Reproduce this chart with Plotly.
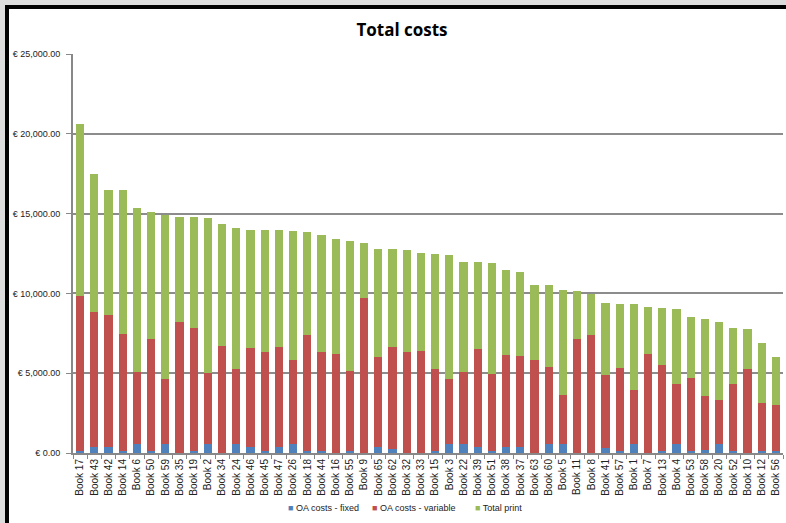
import plotly.graph_objects as go

books = ["Book 17", "Book 43", "Book 42", "Book 14", "Book 6", "Book 50", "Book 59", "Book 35", "Book 19", "Book 2",
         "Book 34", "Book 24", "Book 46", "Book 45", "Book 47", "Book 26", "Book 18", "Book 44", "Book 16", "Book 55",
         "Book 9", "Book 65", "Book 62", "Book 32", "Book 33", "Book 15", "Book 3", "Book 22", "Book 39", "Book 51",
         "Book 38", "Book 37", "Book 63", "Book 60", "Book 5", "Book 11", "Book 8", "Book 41", "Book 57", "Book 1",
         "Book 7", "Book 13", "Book 4", "Book 53", "Book 58", "Book 20", "Book 52", "Book 10", "Book 12", "Book 56"]

# cumulative tops
fixed_top = [150, 360, 360, 150, 560, 150, 560, 0, 150, 560,
             0, 560, 360, 100, 400, 560, 150, 100, 0, 125,
             0, 360, 250, 0, 0, 125, 545, 545, 360, 125,
             360, 360, 0, 545, 545, 0, 0, 330, 125, 545,
             0, 125, 545, 125, 210, 545, 125, 0, 125, 125]
variable_top = [9830, 8830, 8640, 7430, 5070, 7160, 4650, 8180, 7840, 4990,
                6720, 5280, 6590, 6320, 6640, 5840, 7370, 6300, 6200, 5150,
                9720, 6010, 6620, 6300, 6370, 5260, 4630, 5050, 6510, 4950,
                6120, 6070, 5840, 5360, 3650, 7120, 7410, 4860, 5320, 3940,
                6180, 5510, 4320, 4710, 3570, 3320, 4320, 5260, 3110, 3000]
total_top = [20600, 17500, 16460, 16460, 15340, 15090, 14920, 14790, 14790, 14750,
             14340, 14090, 14000, 13960, 13960, 13900, 13840, 13650, 13380, 13310,
             13130, 12810, 12770, 12710, 12560, 12480, 12380, 11980, 11980, 11910,
             11460, 11370, 10500, 10500, 10190, 10120, 9970, 9430, 9330, 9330,
             9160, 9080, 9010, 8510, 8370, 8180, 7810, 7760, 6870, 6010]

oa_fixed = fixed_top
oa_variable = [v - f for v, f in zip(variable_top, fixed_top)]
total_print = [t - v for t, v in zip(total_top, variable_top)]

series_names = ["OA costs - fixed", "OA costs - variable", "Total print"]
series_colors = ["#4F81BD", "#C0504D", "#9BBB59"]
series_values = [oa_fixed, oa_variable, total_print]

fig = go.Figure()
for name, vals, col in zip(series_names, series_values, series_colors):
    fig.add_trace(go.Bar(x=books, y=vals, name=name, marker=dict(color=col, line=dict(width=0)),
                         showlegend=False))

L, R, T, B = 73, 783, 54, 453
W, H = R - L, B - T
def px(x): return (x - L) / W
def py(y): return (B - y) / H

shapes = [
    dict(type="rect", xref="paper", yref="paper", x0=px(0), x1=px(786), y0=py(0), y1=py(5),
         fillcolor="#dcdcdc", line=dict(width=0), layer="above"),
    dict(type="rect", xref="paper", yref="paper", x0=px(0), x1=px(5), y0=py(0), y1=py(523),
         fillcolor="#dcdcdc", line=dict(width=0), layer="above"),
    dict(type="rect", xref="paper", yref="paper", x0=px(5), x1=px(786), y0=py(5), y1=py(9),
         fillcolor="#000000", line=dict(width=0), layer="above"),
    dict(type="rect", xref="paper", yref="paper", x0=px(5), x1=px(9), y0=py(5), y1=py(523),
         fillcolor="#000000", line=dict(width=0), layer="above"),
]

# legend drawn as text: colored square + label
legend_x = [286, 370, 473]
annotations = []
for name, col, lx in zip(series_names, series_colors, legend_x):
    annotations.append(dict(xref="paper", yref="paper", x=px(lx), y=py(508), xanchor="left", yanchor="middle",
                            showarrow=False, text=f"<span style='color:{col}'>■</span> {name}",
                            font=dict(size=9, color="#222222", family="Liberation Sans, Arial, sans-serif")))

fig.update_layout(
    width=786, height=523,
    margin=dict(l=L, r=786 - R, t=T, b=523 - B, autoexpand=False),
    paper_bgcolor="white", plot_bgcolor="white",
    barmode="stack", bargap=0.43,
    font=dict(family="Liberation Sans, Arial, sans-serif", color="#222222"),
    title=dict(text="<b>Total costs</b>", x=px(402), xanchor="center", xref="paper",
               y=1 - 30 / 523, yanchor="middle", yref="container",
               font=dict(size=17, family="Open Sans, Liberation Sans, sans-serif", color="#000000")),
    showlegend=False,
    shapes=shapes,
    annotations=annotations,
    xaxis=dict(type="category", tickangle=-90, tickfont=dict(size=10, color="#222222"),
               showline=True, linecolor="#888888", linewidth=2, automargin=False,
               ticks="outside", tickson="boundaries", ticklen=4, tickcolor="#888888",
               showgrid=False),
    yaxis=dict(range=[0, 25000], dtick=5000, tickprefix="€ ", tickformat=",.2f",
               tickfont=dict(size=9, color="#222222"), automargin=False,
               showline=True, linecolor="#888888", linewidth=2,
               ticks="outside", ticklen=5, tickcolor="#888888", ticklabelstandoff=4,
               showgrid=True, gridcolor="#8c8c8c", gridwidth=1.5, zeroline=False),
)

fig.write_html("out.html", config={"displayModeBar": False},
               post_script="document.body.style.margin='0';document.body.style.overflow='hidden';")
